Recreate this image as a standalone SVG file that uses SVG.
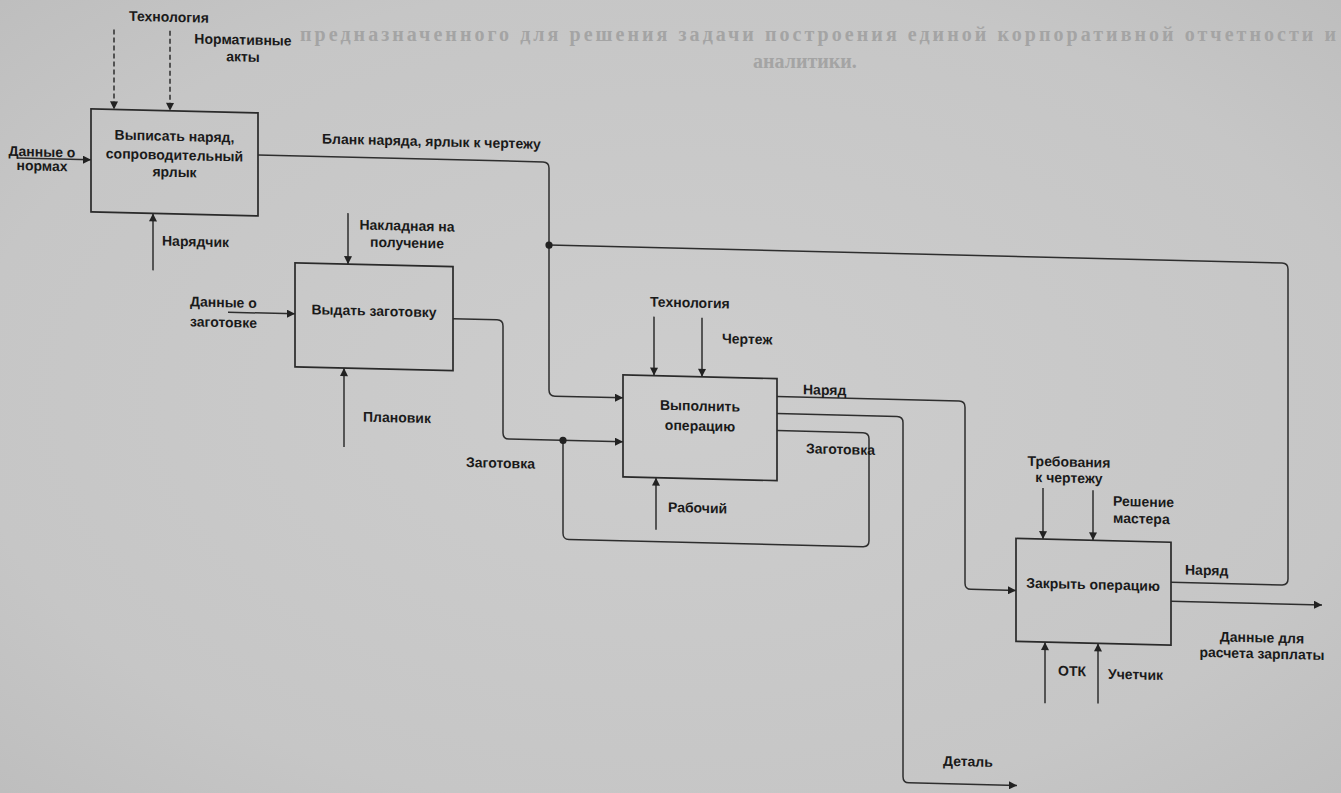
<svg xmlns="http://www.w3.org/2000/svg" width="1341" height="793" viewBox="0 0 1341 793">
<style>
.box{fill:none;stroke:#2a2a2a;stroke-width:1.7}
.ln{fill:none;stroke:#2e2e2e;stroke-width:1.5}
.dash{stroke-dasharray:5 3}
.lbl{font-family:"Liberation Sans",Arial,sans-serif;font-weight:bold;font-size:14px;fill:#1a1a1a}
.c{text-anchor:middle}
.faint{font-family:"Liberation Serif","Times New Roman",serif;font-weight:bold;font-size:20px;fill:#a4a4a4}
.dot{fill:#222}
</style>
<defs>
<radialGradient id="vign" cx="0.5" cy="0.5" r="0.75">
<stop offset="0" stop-color="#cdcdcd"/>
<stop offset="0.7" stop-color="#c6c6c6"/>
<stop offset="1" stop-color="#bcbcbc"/>
</radialGradient>
<marker id="ah" viewBox="0 0 10 10" refX="10" refY="5" markerWidth="9" markerHeight="8" markerUnits="userSpaceOnUse" orient="auto">
<path d="M0,0 L10,5 L0,10 z" fill="#222"/>
</marker>
</defs>
<rect x="0" y="0" width="1341" height="793" fill="url(#vign)"/>
<g id="page-text">
<text class="faint" x="300" y="41" textLength="1036" lengthAdjust="spacing">предназначенного для решения задачи построения единой корпоративной отчетности и</text>
<text class="faint" x="753" y="68">аналитики.</text>
</g>
<g transform="matrix(1,0.0244,0,1,0,-16.35)">
<g id="connectors">
<path class="ln dash" d="M114 43 V123" marker-end="url(#ah)"/>
<path class="ln dash" d="M170 43 V123" marker-end="url(#ah)"/>
<path class="ln" d="M17 174 H91" marker-end="url(#ah)"/>
<path class="ln" d="M153 283 V226" marker-end="url(#ah)"/>
<path class="ln" d="M258 165 H543 Q549 165 549 171 V393 Q549 399 555 399 H623" marker-end="url(#ah)"/>
<path class="ln" d="M1171 570 H1282 Q1288 570 1288 564 V254 Q1288 248 1282 248 H549"/>
<circle class="dot" cx="549" cy="248" r="3.6"/>
<path class="ln" d="M348 221 V272" marker-end="url(#ah)"/>
<path class="ln" d="M228 323 H295" marker-end="url(#ah)"/>
<path class="ln" d="M344 455 V376" marker-end="url(#ah)"/>
<path class="ln" d="M453 324 H497 Q503 324 503 330 V437 Q503 443 509 443 H623" marker-end="url(#ah)"/>
<path class="ln" d="M777 428 H863 Q869 428 869 434 V536 Q869 542 863 542 H569 Q563 542 563 536 V443"/>
<circle class="dot" cx="563" cy="443" r="3.6"/>
<path class="ln" d="M654 317 V376" marker-end="url(#ah)"/>
<path class="ln" d="M702 317 V376" marker-end="url(#ah)"/>
<path class="ln" d="M656 530 V478" marker-end="url(#ah)"/>
<path class="ln" d="M777 394 H959 Q965 394 965 400 V576 Q965 582 971 582 H1016" marker-end="url(#ah)"/>
<path class="ln" d="M777 411 H897 Q903 411 903 417 V771 Q903 777 909 777 H1017" marker-end="url(#ah)"/>
<path class="ln" d="M1043 479 V530" marker-end="url(#ah)"/>
<path class="ln" d="M1093 480 V530" marker-end="url(#ah)"/>
<path class="ln" d="M1045 694 V633" marker-end="url(#ah)"/>
<path class="ln" d="M1098 693 V633" marker-end="url(#ah)"/>
<path class="ln" d="M1171 589 H1322" marker-end="url(#ah)"/>
</g>
<g id="labels">
<text class="lbl c" x="169" y="34">Технология</text>
<text class="lbl c" x="243" y="55">Нормативные</text>
<text class="lbl c" x="243" y="72">акты</text>
<text class="lbl c" x="42" y="172">Данные о</text>
<text class="lbl c" x="42" y="186">нормах</text>
<text class="lbl" x="162" y="258">Нарядчик</text>
<text class="lbl" x="322" y="152">Бланк наряда, ярлык к чертежу</text>
<text class="lbl c" x="407" y="237">Накладная на</text>
<text class="lbl c" x="407" y="254">получение</text>
<text class="lbl" x="190" y="318">Данные о</text>
<text class="lbl" x="190" y="338">заготовке</text>
<text class="lbl" x="363" y="429">Плановик</text>
<text class="lbl" x="466" y="472">Заготовка</text>
<text class="lbl" x="650" y="307">Технология</text>
<text class="lbl" x="722" y="342">Чертеж</text>
<text class="lbl" x="668" y="512">Рабочий</text>
<text class="lbl" x="803" y="391">Наряд</text>
<text class="lbl" x="806" y="450">Заготовка</text>
<text class="lbl" x="943" y="759">Деталь</text>
<text class="lbl c" x="1069" y="457">Требования</text>
<text class="lbl c" x="1069" y="473">к чертежу</text>
<text class="lbl" x="1113" y="495">Решение</text>
<text class="lbl" x="1113" y="512">мастера</text>
<text class="lbl" x="1185" y="562">Наряд</text>
<text class="lbl c" x="1262" y="628">Данные для</text>
<text class="lbl c" x="1262" y="644">расчета зарплаты</text>
<text class="lbl" x="1058" y="666">ОТК</text>
<text class="lbl" x="1108" y="668">Учетчик</text>
</g>
<g id="node-a1">
<rect class="box" x="91" y="123" width="167" height="103"/>
<text class="lbl c" x="174.5" y="153">Выписать наряд,</text>
<text class="lbl c" x="174.5" y="172">сопроводительный</text>
<text class="lbl c" x="174.5" y="189">ярлык</text>
</g>
<g id="node-a2">
<rect class="box" x="295" y="272" width="158" height="104"/>
<text class="lbl c" x="374" y="323">Выдать заготовку</text>
</g>
<g id="node-a3">
<rect class="box" x="623" y="376" width="154" height="102"/>
<text class="lbl c" x="700" y="410">Выполнить</text>
<text class="lbl c" x="700" y="430">операцию</text>
</g>
<g id="node-a4">
<rect class="box" x="1016" y="530" width="155" height="103"/>
<text class="lbl c" x="1093" y="579">Закрыть операцию</text>
</g>
</g>
</svg>
